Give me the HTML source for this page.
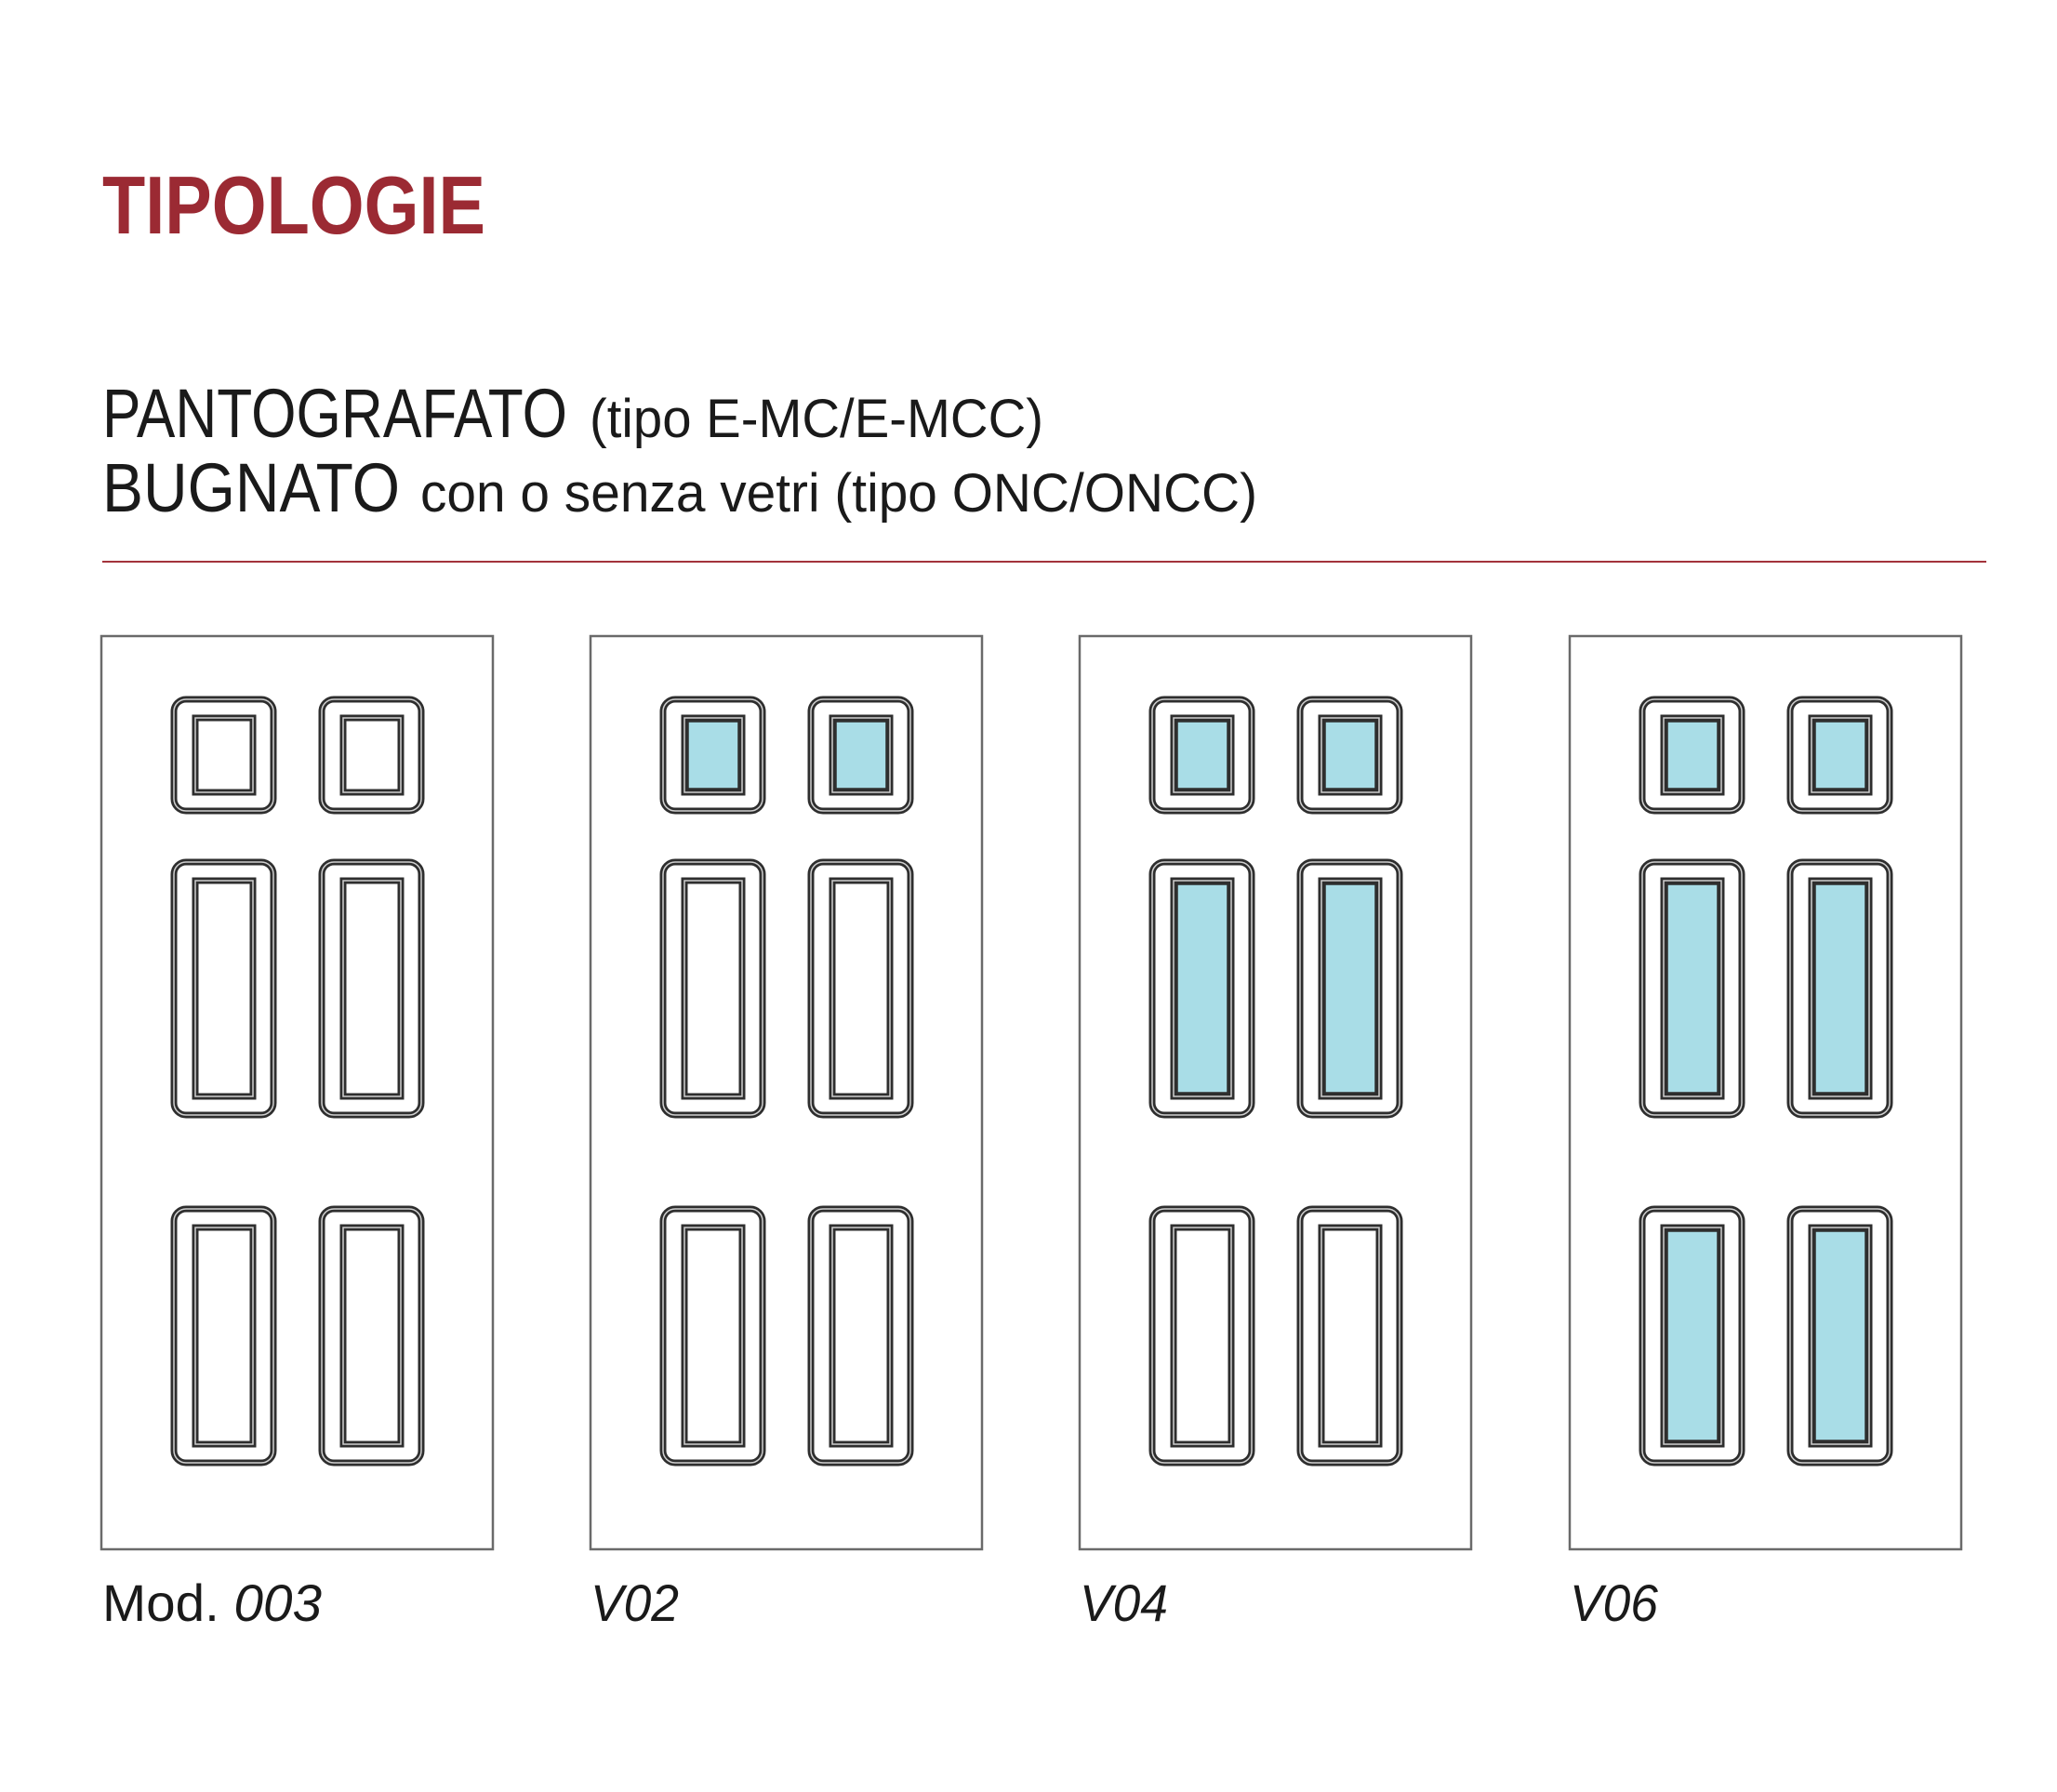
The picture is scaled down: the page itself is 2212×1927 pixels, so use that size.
<!DOCTYPE html>
<html><head><meta charset="utf-8"><style>html,body{margin:0;padding:0;background:#fff}svg{display:block}</style></head>
<body>
<svg width="2212" height="1927" viewBox="0 0 2212 1927" xmlns="http://www.w3.org/2000/svg" font-family="Liberation Sans, DejaVu Sans, sans-serif">
<text x="110" y="251" fill="#9b2a33" font-weight="bold" font-size="88" textLength="412" lengthAdjust="spacingAndGlyphs">TIPOLOGIE</text>
<text x="110" y="470" fill="#1a1a1a" font-size="74" textLength="500" lengthAdjust="spacingAndGlyphs">PANTOGRAFATO</text>
<text x="634" y="470" fill="#1a1a1a" font-size="58" textLength="488" lengthAdjust="spacingAndGlyphs">(tipo E-MC/E-MCC)</text>
<text x="110" y="550" fill="#1a1a1a" font-size="74" textLength="320" lengthAdjust="spacingAndGlyphs">BUGNATO</text>
<text x="452" y="550" fill="#1a1a1a" font-size="58" textLength="900" lengthAdjust="spacingAndGlyphs">con o senza vetri (tipo ONC/ONCC)</text>
<rect x="110" y="603" width="2026" height="2" fill="#a3333b"/>
<g id="doors"></g>
<text x="110" y="1743" fill="#1a1a1a" font-size="56" textLength="236" lengthAdjust="spacingAndGlyphs">Mod. <tspan font-style="italic">003</tspan></text>
<text x="635" y="1743" fill="#1a1a1a" font-size="56" font-style="italic" textLength="95" lengthAdjust="spacingAndGlyphs">V02</text>
<text x="1161" y="1743" fill="#1a1a1a" font-size="56" font-style="italic" textLength="95" lengthAdjust="spacingAndGlyphs">V04</text>
<text x="1688" y="1743" fill="#1a1a1a" font-size="56" font-style="italic" textLength="95" lengthAdjust="spacingAndGlyphs">V06</text>
<script>
(function(){
 var ns="http://www.w3.org/2000/svg",g=document.getElementById("doors");
 var lefts=[109,635,1161,1688];
 var glass=[[0,0,0],[1,0,0],[1,1,0],[1,1,1]];
 var rows=[[749,875],[924,1202],[1297,1576]];
 function el(t,a){var e=document.createElementNS(ns,t);for(var k in a)e.setAttribute(k,a[k]);g.appendChild(e);return e;}
 lefts.forEach(function(L,d){
  el("rect",{x:L,y:684,width:421,height:982,fill:"none",stroke:"#6a6a6a","stroke-width":2.5});
  [75,234].forEach(function(dx){
   rows.forEach(function(r,ri){
    var x=L+dx+3,y=r[0]+3,w=107,h=r[1]-r[0]-6;
    el("rect",{x:x,y:y,width:w,height:h,rx:13,fill:"none",stroke:"#2e2e2e","stroke-width":7});
    el("rect",{x:x,y:y,width:w,height:h,rx:13,fill:"none",stroke:"#cfcfcf","stroke-width":1.5});
    var ix=L+dx+26,iy=r[0]+23,iw=62,ih=r[1]-r[0]-46;
    el("rect",{x:ix,y:iy,width:iw,height:ih,fill:glass[d][ri]?"#a9dde7":"none",stroke:"#2e2e2e","stroke-width":7});
    el("rect",{x:ix,y:iy,width:iw,height:ih,fill:"none",stroke:"#cfcfcf","stroke-width":1.5});
    if(glass[d][ri]) el("rect",{x:ix+4,y:iy+4,width:iw-8,height:ih-8,fill:"#a9dde7",stroke:"#2e2e2e","stroke-width":1.5});
   });
  });
 });
})();
</script>
</svg>
</body></html>
